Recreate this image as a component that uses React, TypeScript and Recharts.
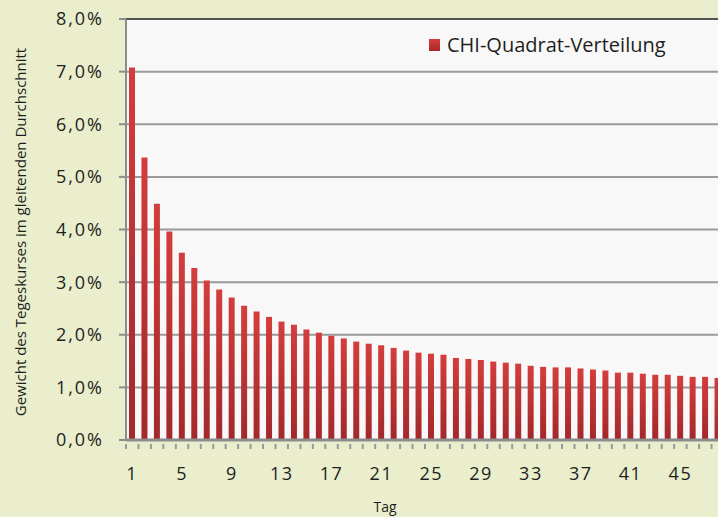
import { BarChart, Bar, XAxis, YAxis, CartesianGrid, ReferenceLine, Label } from 'recharts';

// Gewicht je Tag (in %)
const days = Array.from({ length: 48 }, (_, i) => String(i + 1));
const weights = [
  7.08, 5.37, 4.49, 3.96, 3.56, 3.27, 3.03, 2.86, 2.71, 2.55,
  2.44, 2.34, 2.25, 2.19, 2.10, 2.04, 1.98, 1.93, 1.87, 1.83,
  1.80, 1.75, 1.70, 1.66, 1.64, 1.62, 1.56, 1.54, 1.52, 1.49,
  1.47, 1.45, 1.41, 1.39, 1.38, 1.38, 1.36, 1.34, 1.32, 1.28,
  1.28, 1.26, 1.24, 1.24, 1.22, 1.20, 1.20, 1.18,
];
const yTicks = [0, 1, 2, 3, 4, 5, 6, 7, 8];
const seriesName = 'CHI-Quadrat-Verteilung';

const data = days.map((day, i) => ({ day, weight: weights[i] }));

const FONT = '"Open Sans", sans-serif';
const TEXT = '#1e1e1e';

const fmtPct = (v: number) => `${v.toFixed(1).replace('.', ',')}%`;

// Excel-Stil: Teilstriche zwischen den Kategorien, Beschriftung nur jeden 4. Tag
const XTick = (props: any) => {
  const { x, y, payload, index } = props;
  const half = payload?.offset ?? 598 / weights.length / 2;
  const left = x - half;
  return (
    <g>
      <line x1={left} x2={left} y1={y - 4} y2={y + 1} stroke="#999" strokeWidth={2} />
      {index % 4 === 0 && (
        <text
          x={x}
          y={y + 32}
          textAnchor="middle"
          fill={TEXT}
          fontSize={18}
          fontFamily={FONT}
          style={{ letterSpacing: '1.5px' }}
        >
          {payload.value}
        </text>
      )}
    </g>
  );
};

export default function App() {
  return (
    <div
      style={{
        position: 'absolute',
        left: 0,
        top: 0,
        width: 718,
        height: 517,
        overflow: 'hidden',
        background: '#eaeecc',
      }}
    >
      <svg width={0} height={0} style={{ position: 'absolute' }}>
        <defs>
          <linearGradient id="barGrad" x1="0" y1="0" x2="0" y2="1">
            <stop offset="0%" stopColor="#d43d3d" />
            <stop offset="100%" stopColor="#a2282a" />
          </linearGradient>
        </defs>
      </svg>
      <BarChart
        width={724}
        height={517}
        data={data}
        margin={{ top: 19, right: 0, bottom: 0, left: 0 }}
      >
        <CartesianGrid vertical={false} stroke="#9a9a9a" strokeWidth={2} fill="#f8f8f8" fillOpacity={1} />
        <XAxis
          dataKey="day"
          interval={0}
          height={77}
          tickLine={false}
          axisLine={{ stroke: '#8c8c8c', strokeWidth: 3 }}
          tick={<XTick />}
        >
          <Label
            content={() => (
              <text x={385} y={512} textAnchor="middle" fill={TEXT} fontSize={14} fontFamily={FONT}>
                Tag
              </text>
            )}
          />
        </XAxis>
        <YAxis
          width={126}
          domain={[0, 8]}
          ticks={yTicks}
          interval={0}
          tickFormatter={fmtPct}
          tickSize={7}
          tickMargin={15}
          tickLine={{ stroke: '#8c8c8c', strokeWidth: 2 }}
          axisLine={{ stroke: '#8c8c8c', strokeWidth: 2 }}
          tick={{ fill: TEXT, fontSize: 18, fontFamily: FONT, style: { letterSpacing: '2px' } }}
        >
          <Label
            content={() => (
              <text
                x={0}
                y={0}
                transform="translate(26 232) rotate(-90)"
                textAnchor="middle"
                fill={TEXT}
                fontSize={15}
                fontFamily={FONT}
              >
                Gewicht des Tegeskurses im gleitenden Durchschnitt
              </text>
            )}
          />
        </YAxis>
        <ReferenceLine y={8} stroke="#3a3a3a" strokeWidth={1.5} />
        <Bar dataKey="weight" name={seriesName} fill="url(#barGrad)" barSize={6} isAnimationActive={false} />
      </BarChart>
      <div
        style={{
          position: 'absolute',
          left: 429,
          top: 31,
          display: 'flex',
          alignItems: 'center',
          fontFamily: FONT,
          fontSize: 20,
          color: TEXT,
        }}
      >
        <span
          style={{
            display: 'inline-block',
            width: 11,
            height: 12,
            background: 'linear-gradient(#d43d3d, #a8292b)',
            marginRight: 7,
          }}
        />
        {seriesName}
      </div>
    </div>
  );
}
